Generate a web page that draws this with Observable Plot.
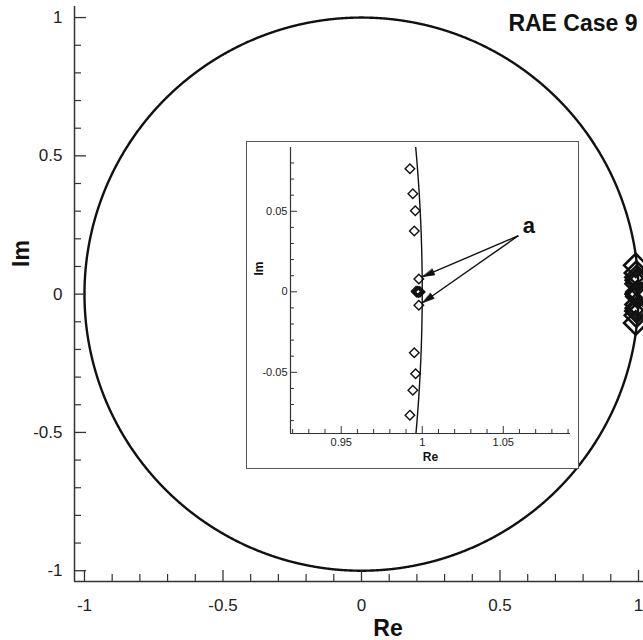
<!DOCTYPE html>
<html><head><meta charset="utf-8">
<script src="https://cdn.jsdelivr.net/npm/d3@7"></script>
<script src="https://cdn.jsdelivr.net/npm/@observablehq/plot@0.6"></script>
<style>
body{margin:0;background:#fff;}
#wrap{position:relative;width:643px;height:640px;overflow:hidden;font-family:"Liberation Sans",Arial,sans-serif;}
#main{position:absolute;left:0;top:0;}
#inset{position:absolute;left:246px;top:141px;width:333px;height:328px;border:1px solid #555;background:#fff;box-sizing:border-box;}
svg{overflow:visible;}
</style></head>
<body><div id="wrap"><div id="main"></div><div id="inset"></div></div>
<script>
// ---- data ----
const title = "RAE Case 9";
// eigenvalues near 1 (Re, Im)
const eigRe = [0.9924, 0.9942, 0.9957, 0.9951, 0.9979, 0.9962, 0.9967, 0.9972, 0.9977, 0.9982, 0.9987, 0.9979, 0.9951, 0.9959, 0.9942, 0.9924];
const eigIm = [0.0764, 0.0609, 0.0503, 0.0377, 0.0079, 0.0003, -0.0003, 0.0004, -0.0004, 0.0002, -0.0002, -0.0083, -0.0379, -0.0509, -0.0611, -0.0766];
// outer pair visible only in the main view (outside the inset's Im range)
const outerRe = [0.990, 0.990];
const outerIm = [0.104, -0.104];
// main axes
const mainXDomain = [-1.036, 1.018];
const mainYDomain = [-1.039, 1.040];
const mainMajorTicks = [-1, -0.5, 0, 0.5, 1];
const mainMinorTicks = [-0.9,-0.8,-0.7,-0.6,-0.4,-0.3,-0.2,-0.1,0.1,0.2,0.3,0.4,0.6,0.7,0.8,0.9];
const mainTickLabels = ["-1", "-0.5", "0", "0.5", "1"];
// inset axes
const insetXDomain = [0.9187, 1.0915];
const insetYDomain = [-0.0880, 0.0896];
const insetXMajor = [0.95, 1, 1.05];
const insetXMajorLabels = ["0.95", "1", "1.05"];
const insetXMinor = [0.92,0.93,0.94,0.96,0.97,0.98,0.99,1.01,1.02,1.03,1.04,1.06,1.07,1.08,1.09];
const insetYMajor = [-0.05, 0, 0.05];
const insetYMajorLabels = ["-0.05", "0", "0.05"];
const insetYMinor = [-0.08,-0.07,-0.06,-0.04,-0.03,-0.02,-0.01,0.01,0.02,0.03,0.04,0.06,0.07,0.08];
// annotation "a" and its arrows (inset data coords)
const annotLabel = "a";
const annotPos = [1.0658, 0.041];
const arrowFrom = [[1.0593, 0.0348], [1.0593, 0.0348]];
const arrowTo = [[1.0002, 0.0094], [1.0002, -0.0068]];

// ---- derived tables ----
const eig = eigRe.map((re, i) => ({re, im: eigIm[i]}));
const eigMain = eig.concat(outerRe.map((re, i) => ({re, im: outerIm[i]})));
// the unit circle |z| = 1 (reference curve)
const nC = 2880;
const unitCircle = d3.range(nC + 1).map(i => ({re: Math.cos(2*Math.PI*i/nC), im: Math.sin(2*Math.PI*i/nC)}));
const arrows = arrowFrom.map((f, i) => ({x1: f[0], y1: f[1], x2: arrowTo[i][0], y2: arrowTo[i][1]}));
const fmt = (ticks, labels) => d => labels[ticks.indexOf(d)];

const FONT = "Liberation Sans, Arial, Helvetica, sans-serif";
const AX = "#333";

// ---- main plot ----
const W = 643, H = 640, mL = 74, mR = 0, mT = 6, mB = 59;
const pW = W - mL - mR, pH = H - mT - mB;
const main = Plot.plot({
  width: W, height: H, marginLeft: mL, marginRight: mR, marginTop: mT, marginBottom: mB,
  x: {domain: mainXDomain},
  y: {domain: mainYDomain},
  style: {fontFamily: FONT, fontSize: "17px", color: "#222", background: "transparent", overflow: "visible"},
  marks: [
    Plot.line(unitCircle, {x: "re", y: "im", stroke: "#111", strokeWidth: 2.4}),
    Plot.dot(eigMain, {x: "re", y: "im", symbol: "diamond2", r: 10.5, stroke: "#111", strokeWidth: 2.6, fill: "none"}),
    Plot.ruleX([mainXDomain[0]], {stroke: AX, strokeWidth: 1.5}),
    Plot.ruleY([mainYDomain[0]], {stroke: AX, strokeWidth: 1.5}),
    Plot.tickX(mainMajorTicks, {x: d => d, insetTop: pH - 11, stroke: AX, strokeWidth: 1.3}),
    Plot.tickX(mainMinorTicks, {x: d => d, insetTop: pH - 7, stroke: AX, strokeWidth: 1.2}),
    Plot.tickY(mainMajorTicks, {y: d => d, insetRight: pW - 12, stroke: AX, strokeWidth: 1.3}),
    Plot.tickY(mainMinorTicks, {y: d => d, insetRight: pW - 7, stroke: AX, strokeWidth: 1.2}),
    Plot.axisX(mainMajorTicks, {tickSize: 0, tickPadding: 17, tickFormat: fmt(mainMajorTicks, mainTickLabels), label: null, fontSize: 17}),
    Plot.axisY(mainMajorTicks, {tickSize: 0, tickPadding: 12, tickFormat: fmt(mainMajorTicks, mainTickLabels), label: null, fontSize: 17}),
    Plot.text(["Re"], {frameAnchor: "bottom", dx: 29, dy: 54, lineAnchor: "bottom", fontSize: 23, fontWeight: "bold", fill: "#111"}),
    Plot.text(["Im"], {frameAnchor: "left", rotate: -90, dx: -53, dy: -27, lineAnchor: "middle", fontSize: 23, fontWeight: "bold", fill: "#111"}),
    Plot.text([title], {frameAnchor: "top-right", textAnchor: "end", lineAnchor: "bottom", dx: -6, dy: 24, fontSize: 23, fontWeight: "bold", fill: "#111"})
  ]
});
document.getElementById("main").appendChild(main);

// ---- inset plot ----
const iW = 331, iH = 326, iL = 43, iR = 8, iT = 5, iB = 35;
const ipW = iW - iL - iR, ipH = iH - iT - iB;
const kx = ipW / (insetXDomain[1] - insetXDomain[0]);
const ky = ipH / (insetYDomain[1] - insetYDomain[0]);
// screen direction of each arrow (degrees clockwise from up)
const arrowAngle = d => Math.atan2((d.x2 - d.x1) * kx, (d.y2 - d.y1) * ky) * 180 / Math.PI;
// filled, narrow arrow head: tip at (0,-l), base at (0,0)
const headShape = {
  draw(context, l) {
    const w = 3.2;
    context.moveTo(0, -l);
    context.lineTo(-w, 0);
    context.lineTo(w, 0);
    context.closePath();
  }
};
const inset = Plot.plot({
  width: iW, height: iH, marginLeft: iL, marginRight: iR, marginTop: iT, marginBottom: iB,
  x: {domain: insetXDomain},
  y: {domain: insetYDomain},
  style: {fontFamily: FONT, fontSize: "11px", color: "#222", background: "transparent", overflow: "visible"},
  marks: [
    Plot.line(unitCircle, {x: "re", y: "im", stroke: "#111", strokeWidth: 1.4, clip: true}),
    Plot.dot(eig, {x: "re", y: "im", symbol: "diamond2", r: 4.3, stroke: "#111", strokeWidth: 1.4, fill: "none", clip: true}),
    Plot.ruleX([insetXDomain[0]], {stroke: AX, strokeWidth: 1.2}),
    Plot.ruleY([insetYDomain[0]], {stroke: AX, strokeWidth: 1.2}),
    Plot.tickX(insetXMajor, {x: d => d, insetTop: ipH - 7, stroke: AX, strokeWidth: 1}),
    Plot.tickX(insetXMinor, {x: d => d, insetTop: ipH - 4, stroke: AX, strokeWidth: 1}),
    Plot.tickY(insetYMajor, {y: d => d, insetRight: ipW - 7, stroke: AX, strokeWidth: 1}),
    Plot.tickY(insetYMinor, {y: d => d, insetRight: ipW - 4, stroke: AX, strokeWidth: 1}),
    Plot.axisX(insetXMajor, {tickSize: 0, tickPadding: 5, tickFormat: fmt(insetXMajor, insetXMajorLabels), label: null, fontSize: 11}),
    Plot.axisY(insetYMajor, {tickSize: 0, tickPadding: 3, tickFormat: fmt(insetYMajor, insetYMajorLabels), label: null, fontSize: 11}),
    Plot.text(["Re"], {frameAnchor: "bottom", dy: 27, lineAnchor: "bottom", fontSize: 12, fontWeight: "bold", fill: "#111"}),
    Plot.text(["Im"], {frameAnchor: "left", rotate: -90, dx: -31, dy: -15, lineAnchor: "middle", fontSize: 12, fontWeight: "bold", fill: "#111"}),
    Plot.link(arrows, {x1: "x1", y1: "y1", x2: "x2", y2: "y2", stroke: "#111", strokeWidth: 1.4}),
    Plot.vector(arrows, {x: "x2", y: "y2", rotate: d => arrowAngle(d), length: 12, anchor: "end", shape: headShape, fill: "#111", stroke: "#111", strokeWidth: 0.6}),
    Plot.text([annotLabel], {x: () => annotPos[0], y: () => annotPos[1], fontSize: 22, fontWeight: "bold", fill: "#111", lineAnchor: "middle"})
  ]
});
document.getElementById("inset").appendChild(inset);
</script>
</body></html>
